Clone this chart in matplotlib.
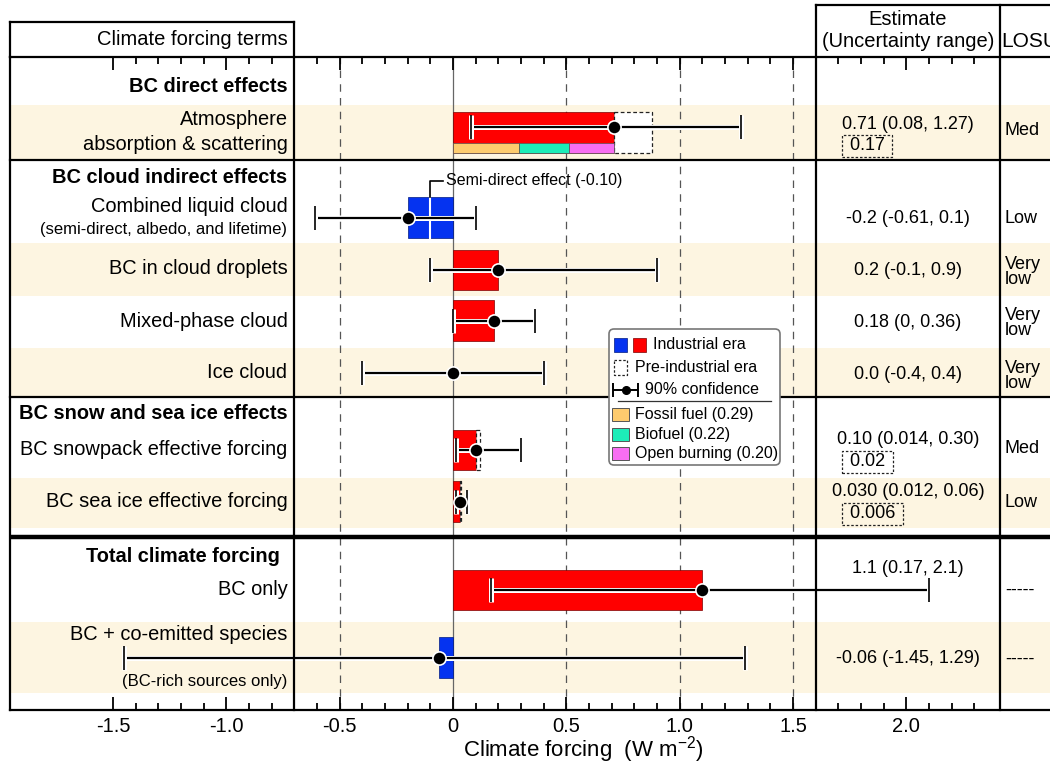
import matplotlib
matplotlib.use('Agg')
import matplotlib.pyplot as plt
import matplotlib.patheffects as pe
from matplotlib.patches import Rectangle, FancyBboxPatch
from matplotlib.ticker import FixedLocator, FixedFormatter

plt.rcParams['font.family'] = ['Liberation Sans', 'DejaVu Sans']
plt.rcParams['mathtext.default'] = 'regular'

# ---- data (W m-2) ----
terms = ['Atmosphere\nabsorption & scattering', 'Combined liquid cloud', 'BC in cloud droplets',
         'Mixed-phase cloud', 'Ice cloud', 'BC snowpack effective forcing',
         'BC sea ice effective forcing', 'BC only', 'BC + co-emitted species']
best = [0.71, -0.2, 0.2, 0.18, 0.0, 0.10, 0.030, 1.1, -0.06]
low = [0.08, -0.61, -0.1, 0.0, -0.4, 0.014, 0.012, 0.17, -1.45]
high = [1.27, 0.1, 0.9, 0.36, 0.4, 0.30, 0.06, 2.1, 1.29]
preind = [0.17, 0, 0, 0, 0, 0.02, 0.006, 0, 0]
estimate_txt = ['0.71 (0.08, 1.27)', '-0.2 (-0.61, 0.1)', '0.2 (-0.1, 0.9)', '0.18 (0, 0.36)',
                '0.0 (-0.4, 0.4)', '0.10 (0.014, 0.30)', '0.030 (0.012, 0.06)',
                '1.1 (0.17, 2.1)', '-0.06 (-1.45, 1.29)']
preind_txt = ['0.17', '', '', '', '', '0.02', '0.006', '', '']
losu = ['Med', 'Low', 'Very\nlow', 'Very\nlow', 'Very\nlow', 'Med', 'Low', '-----', '-----']
sections = ['BC direct effects', 'BC cloud indirect effects', 'BC snow and sea ice effects',
            'Total climate forcing']
sources = ['Fossil fuel', 'Biofuel', 'Open burning']
source_vals = [0.29, 0.22, 0.20]
semi_direct = -0.10

# ---- layout (rows measured from top) ----
bar_y = [127, 218, 270, 321, 373, 450, 502, 590, 658]
bar_h = [31, 41, 40, 41, 40, 40, 41, 40, 41]
label_y = [None, 207, 269, 322, 373, 450, 502, 590, 635]
est_y = [125, 219, 271, 323, 375, 440, 492, 569, 659]
pre_dy = [21, 0, 0, 0, 0, 22, 22, 0, 0]
losu_y = [131, 219, 272, 323, 376, 449, 503, 590, 659]
section_y = [87, 178, 414, 557]
section_x = [-0.73, -0.73, -0.73, -0.763]
bands = [(105, 160), (243, 296), (348, 397), (478, 528), (622, 693)]

RED = '#FF0000'
BLUE = '#0533F0'
BEIGE = '#FDF5E1'
src_cols = ['#FDCB6E', '#1DEDB8', '#F76EF2']
X_LAB, X_EST, X_LOSU = -0.70, 1.60, 2.413
XL, XR = -1.954, 2.634
FS = 14.4

fig = plt.figure(figsize=(10.5, 7.65), dpi=100)
ax = fig.add_axes([10/1050, 1-710/765, 1-10/1050, 653/765])
ax.set_xlim(XL, XR)
ax.set_ylim(710, 57)

for t, b in bands:
    ax.axhspan(t, b, color=BEIGE, lw=0, zorder=0)

for x in [-0.5, 0.5, 1.0, 1.5]:
    ax.axvline(x, color='#555555', lw=0.9, ls=(0, (6, 5)), zorder=1)
ax.axvline(0, color='#666666', lw=0.9, zorder=1)

# bars
for i in range(len(best)):
    h = 41 if i == 0 else bar_h[i]
    top = 112 if i == 0 else bar_y[i] - h/2
    if best[i] != 0:
        ax.barh(top + h/2, best[i], height=h, left=0,
                color=RED if best[i] > 0 else BLUE,
                edgecolor='#7a0000' if best[i] > 0 else '#001a80', lw=0.5, zorder=2)
    if preind[i] > 0:
        ax.add_patch(Rectangle((best[i], top), preind[i], h, facecolor='white',
                               edgecolor='#222222', lw=0.9, ls=(0, (3, 2)), zorder=2))

# source split for atmosphere
left = 0
for v, c in zip(source_vals, src_cols):
    ax.barh(148, v, height=10, left=left, color=c, edgecolor='#555555', lw=0.5, zorder=3)
    left += v

# semi-direct split
ax.plot([semi_direct, semi_direct], [198, 239], color='white', lw=1.5, zorder=3)
ax.plot([semi_direct, semi_direct, -0.045], [197, 181, 181], color='k', lw=1.2, zorder=3)
ax.text(-0.03, 181, 'Semi-direct effect (-0.10)', fontsize=11.5, va='center', ha='left', zorder=3)

# error bars
halo = [pe.Stroke(linewidth=3.6, foreground='white'), pe.Normal()]
for i in range(len(best)):
    eb = ax.errorbar(best[i], bar_y[i], xerr=[[best[i]-low[i]], [high[i]-best[i]]], fmt='o',
                     color='k', ms=9.5, mec='white', mew=1.2, elinewidth=1.6, capsize=8.3,
                     capthick=1.6, zorder=4, clip_on=False)
    for ln in eb[1]:
        ln.set_path_effects(halo)
    for lc in eb[2]:
        lc.set_path_effects(halo)

# label panel
ax.text(-0.73, 120, 'Atmosphere', ha='right', va='center', fontsize=FS)
ax.text(-0.73, 145, 'absorption & scattering', ha='right', va='center', fontsize=FS)
for i in range(1, len(terms)):
    ax.text(-0.73, label_y[i], terms[i], ha='right', va='center', fontsize=FS)
ax.text(-0.73, 230, '(semi-direct, albedo, and lifetime)', ha='right', va='center', fontsize=12)
ax.text(-0.73, 682, '(BC-rich sources only)', ha='right', va='center', fontsize=12)
for s, x, y in zip(sections, section_x, section_y):
    ax.text(x, y, s, ha='right', va='center', fontsize=FS, fontweight='bold')

# estimate and LOSU columns
for i in range(len(best)):
    ax.text(2.007, est_y[i], estimate_txt[i], ha='center', va='center', fontsize=13)
    if preind_txt[i]:
        ax.text(1.729, est_y[i] + pre_dy[i], ' ' + preind_txt[i] + ' ', ha='left', va='center',
                fontsize=13, bbox=dict(boxstyle='square,pad=0.15', fc='none', ec='#222222',
                                       ls=(0, (2, 1.5)), lw=0.9))
    ax.text(2.435, losu_y[i], losu[i], ha='left', va='center', fontsize=13, linespacing=0.8,
            clip_on=False)

# table lines
kw = dict(color='k', lw=1.6, clip_on=False, zorder=5)
ax.axhline(160, **kw)
ax.axhline(397, **kw)
ax.axhline(537, color='k', lw=3.2, zorder=5)
ax.plot([X_LAB, X_LAB], [22, 710], **kw)
ax.plot([X_EST, X_EST], [5, 710], **kw)
ax.plot([X_LOSU, X_LOSU], [5, 710], **kw)
ax.plot([XL, XL], [22, 57], **kw)
ax.plot([XL, X_LAB], [22, 22], **kw)
ax.plot([X_EST, XR], [5, 5], **kw)
ax.text(-0.73, 40, 'Climate forcing terms', ha='right', va='center', fontsize=14.5)
ax.text(2.007, 20, 'Estimate', ha='center', va='center', fontsize=14.5)
ax.text(2.007, 42, '(Uncertainty range)', ha='center', va='center', fontsize=14.5)
ax.text(2.42, 42, 'LOSU', ha='left', va='center', fontsize=15, clip_on=False)

for side in ['top', 'bottom', 'left']:
    ax.spines[side].set_linewidth(1.6)
    ax.spines[side].set_zorder(5)
ax.spines['right'].set_visible(False)

majors = [-1.5, -1.0, -0.5, 0, 0.5, 1.0, 1.5, 2.0]
minors = [round(-1.5 + 0.1*k, 1) for k in range(39)]
minors = [m for m in minors if round(m*10) % 5 != 0]
ax.xaxis.set_major_locator(FixedLocator(majors))
ax.xaxis.set_major_formatter(FixedFormatter(['-1.5', '-1.0', '-0.5', '0', '0.5', '1.0', '1.5', '2.0']))
ax.xaxis.set_minor_locator(FixedLocator(minors))
ax.tick_params(axis='x', which='both', direction='in', top=True, bottom=True, width=1.3,
               labelsize=14.5, pad=5)
ax.tick_params(axis='x', which='major', length=9.5)
ax.tick_params(axis='x', which='minor', length=5)
ax.set_yticks([])
ax.text(0.573, 750, 'Climate forcing  (W m$^{-2}$)', ha='center', va='center', fontsize=16,
        clip_on=False)

# legend
lg = fig.add_axes([608/1050, 1-466/765, 173/1050, 138/765])
lg.set_xlim(0, 173)
lg.set_ylim(138, 0)
lg.axis('off')
lg.add_patch(FancyBboxPatch((1, 1), 171, 136, boxstyle='round,pad=0,rounding_size=5',
                            fc='white', ec='#777777', lw=1.2))
lg.add_patch(Rectangle((6, 10), 13, 14, fc=BLUE, ec='#001a80', lw=0.5))
lg.add_patch(Rectangle((25, 10), 13, 14, fc=RED, ec='#7a0000', lw=0.5))
lg.text(45, 17, 'Industrial era', va='center', fontsize=11.5)
lg.add_patch(Rectangle((6, 32), 13, 15, fill=False, ec='#222222', lw=0.9, ls=(0, (2, 1.5))))
lg.text(27, 40, 'Pre-industrial era', va='center', fontsize=11.5)
leb = lg.errorbar([18], [62], xerr=[[13], [12]], fmt='o', color='k', ms=5.5, elinewidth=1.4,
                  capsize=5, capthick=1.4)
lg.text(37, 62, '90% confidence', va='center', fontsize=11.5)
lg.plot([10, 163], [73, 73], color='#333333', lw=0.9)
for k, (s, v, c) in enumerate(zip(sources, source_vals, src_cols)):
    yy = 87 + 19.5*k
    lg.add_patch(Rectangle((4, yy - 6.5), 17, 13, fc=c, ec='#555555', lw=0.7))
    lg.text(27, yy, '%s (%.2f)' % (s, v), va='center', fontsize=11.5)

fig.savefig('out.png', dpi=100)
